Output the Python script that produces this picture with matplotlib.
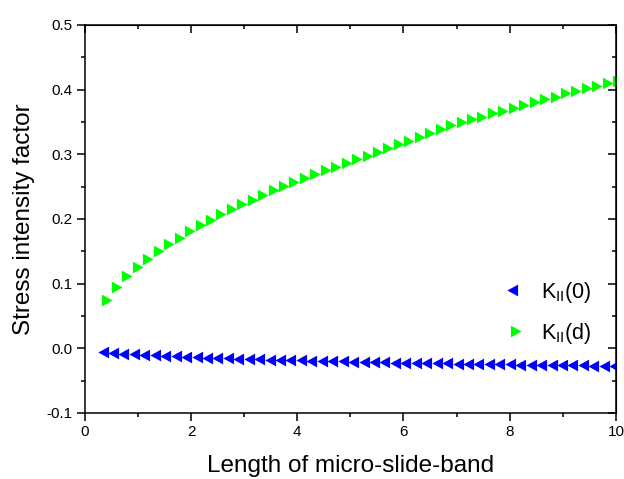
import matplotlib
matplotlib.use("Agg")
import matplotlib.pyplot as plt
from matplotlib.ticker import MultipleLocator

plt.rcParams['font.family'] = ['Liberation Sans', 'DejaVu Sans']
plt.rcParams['mathtext.fontset'] = 'custom'
plt.rcParams['mathtext.rm'] = 'Liberation Sans'

# length of micro-slide-band
x_len = [0.37, 0.57, 0.76, 0.96, 1.16, 1.35, 1.55, 1.75, 1.94, 2.14,
         2.34, 2.53, 2.73, 2.93, 3.12, 3.32, 3.52, 3.71, 3.91, 4.11,
         4.30, 4.50, 4.70, 4.89, 5.09, 5.29, 5.48, 5.68, 5.88, 6.07,
         6.27, 6.47, 6.66, 6.86, 7.06, 7.25, 7.45, 7.65, 7.84, 8.04,
         8.24, 8.43, 8.63, 8.83, 9.02, 9.22, 9.41, 9.61, 9.81, 10.00]

# K_II(0)
k_0 = [-0.0062, -0.0075, -0.0086, -0.0095, -0.0104, -0.0111, -0.0119, -0.0126, -0.0132, -0.0138,
       -0.0144, -0.0149, -0.0155, -0.0160, -0.0165, -0.0170, -0.0175, -0.0179, -0.0184, -0.0188,
       -0.0192, -0.0197, -0.0201, -0.0205, -0.0209, -0.0212, -0.0215, -0.0218, -0.0221, -0.0223,
       -0.0226, -0.0229, -0.0232, -0.0234, -0.0237, -0.0240, -0.0242, -0.0245, -0.0247, -0.0250,
       -0.0252, -0.0255, -0.0257, -0.0260, -0.0262, -0.0264, -0.0267, -0.0269, -0.0271, -0.0273]

# K_II(d)
k_d = [0.075, 0.095, 0.112, 0.126, 0.138, 0.150, 0.161, 0.171, 0.181, 0.190,
       0.199, 0.207, 0.215, 0.223, 0.230, 0.237, 0.244, 0.251, 0.257, 0.263,
       0.269, 0.275, 0.281, 0.287, 0.292, 0.298, 0.304, 0.310, 0.316, 0.321,
       0.327, 0.333, 0.339, 0.345, 0.350, 0.354, 0.358, 0.363, 0.367, 0.372,
       0.376, 0.381, 0.385, 0.389, 0.394, 0.398, 0.402, 0.406, 0.410, 0.414]

# triangles centred on their centroid (Origin style)
tri_right = [(-3.57, 5.85), (-3.57, -5.85), (7.13, 0.0), (-3.57, 5.85)]
tri_left = [(3.57, 5.85), (3.57, -5.85), (-7.13, 0.0), (3.57, 5.85)]

fig = plt.figure(figsize=(6.24, 4.79), dpi=100)
ax = fig.add_axes([0.136, 0.138, 0.851, 0.81])

ax.plot(x_len, k_0, linestyle='none', marker=tri_left, markersize=10.3,
        color='#0000ff', markeredgewidth=0, label=r'K$_{\mathrm{II}}$(0)')
ax.plot(x_len, k_d, linestyle='none', marker=tri_right, markersize=10.3,
        color='#00ff00', markeredgewidth=0, label=r'K$_{\mathrm{II}}$(d)')

ax.set_xlim(0, 10)
ax.set_ylim(-0.1, 0.5)
ax.xaxis.set_major_locator(MultipleLocator(2))
ax.xaxis.set_minor_locator(MultipleLocator(1))
ax.yaxis.set_major_locator(MultipleLocator(0.1))
ax.yaxis.set_minor_locator(MultipleLocator(0.05))
ax.set_yticks([-0.1, 0.0, 0.1, 0.2, 0.3, 0.4, 0.5])
ax.set_yticklabels(['-0.1', '0.0', '0.1', '0.2', '0.3', '0.4', '0.5'])

for s in ax.spines.values():
    s.set_linewidth(1.1)

ax.tick_params(which='both', direction='out', top=False, right=False,
               labelsize=11, width=1.1)
ax.tick_params(which='major', length=5.5)
ax.tick_params(which='minor', length=3)

# inward mirror ticks on top and right
sec_x = ax.secondary_xaxis('top')
sec_x.xaxis.set_major_locator(MultipleLocator(2))
sec_x.xaxis.set_minor_locator(MultipleLocator(1))
sec_x.tick_params(which='both', direction='in', labeltop=False, width=1.1)
sec_x.tick_params(which='major', length=5.5)
sec_x.tick_params(which='minor', length=3)
sec_y = ax.secondary_yaxis('right')
sec_y.yaxis.set_major_locator(MultipleLocator(0.1))
sec_y.yaxis.set_minor_locator(MultipleLocator(0.05))
sec_y.tick_params(which='both', direction='in', labelright=False, width=1.1)
sec_y.tick_params(which='major', length=5.5)
sec_y.tick_params(which='minor', length=3)

ax.set_xlabel('Length of micro-slide-band', fontsize=17.5, labelpad=11)
ax.set_ylabel('Stress intensity factor', fontsize=17.5, labelpad=8)

ax.legend(loc='center left', bbox_to_anchor=(0.75, 0.258), frameon=False,
          fontsize=15.5, handletextpad=0.7, labelspacing=0.75, handlelength=1.1)

fig.savefig('out.png', dpi=100)
